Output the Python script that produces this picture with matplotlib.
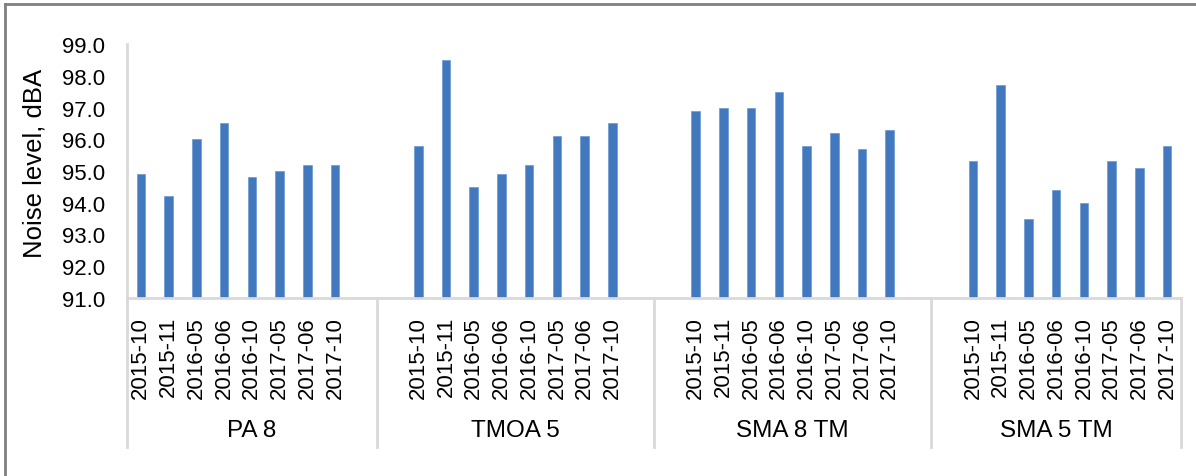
import numpy as np
import matplotlib.pyplot as plt
from matplotlib.lines import Line2D
import matplotlib.transforms as mtransforms

plt.rcParams['font.family'] = ['Liberation Sans', 'DejaVu Sans']

groups = ['PA 8', 'TMOA 5', 'SMA 8 TM', 'SMA 5 TM']
dates = ['2015-10', '2015-11', '2016-05', '2016-06',
         '2016-10', '2017-05', '2017-06', '2017-10']

pa8 = [94.9, 94.2, 96.0, 96.5, 94.8, 95.0, 95.2, 95.2]
tmoa5 = [95.8, 98.5, 94.5, 94.9, 95.2, 96.1, 96.1, 96.5]
sma8tm = [96.9, 97.0, 97.0, 97.5, 95.8, 96.2, 95.7, 96.3]
sma5tm = [95.3, 97.7, 93.5, 94.4, 94.0, 95.3, 95.1, 95.8]
series = [pa8, tmoa5, sma8tm, sma5tm]

base = 91.0
top = 99.0

W, H = 1196, 477
fig = plt.figure(figsize=(W / 100, H / 100), dpi=100)
ax = fig.add_axes([127 / W, 1 - 299 / H, (1181 - 127) / W, 254 / H])

bar_color = '#4178BE'
axis_color = '#D9D9D9'

# each group takes 8 slots, with 2 empty slots between groups
xs, heights, labels = [], [], []
for g, vals in enumerate(series):
    for i, v in enumerate(vals):
        xs.append(g * 10 + i + 0.5)
        heights.append(v - base)
        labels.append(dates[i])

ax.bar(xs, heights, bottom=base, width=0.31, color=bar_color,
       edgecolor='#5B8FD0', linewidth=0.4)

ax.set_xlim(0, 38)
ax.set_ylim(base, top)
ticks = np.arange(91, 100, 1)
ax.set_yticks(ticks)
ax.set_yticklabels(['%.1f' % t for t in ticks])
ax.set_xticks(xs)
ax.set_xticklabels(labels, rotation=90, va='top', ha='center')
ax.tick_params(axis='x', length=0, pad=13, labelsize=16, colors='black')
ax.tick_params(axis='y', length=0, pad=16, labelsize=16)

for s in ['top', 'right']:
    ax.spines[s].set_visible(False)
for s in ['left', 'bottom']:
    ax.spines[s].set_color(axis_color)
    ax.spines[s].set_linewidth(2)

fig.text(35 / W, 1 - 163 / H, 'Noise level, dBA', rotation=90,
         ha='center', va='center', fontsize=18.5)

# group separators and group names below the date labels
trans = mtransforms.blended_transform_factory(ax.transData, ax.transAxes)
bounds = [0, 9, 19, 29, 38]
for b in bounds:
    ax.plot([b, b], [0, -0.587], transform=trans, color=axis_color,
            lw=2, clip_on=False)
for g, name in enumerate(groups):
    mid = (bounds[g] + bounds[g + 1]) / 2
    ax.text(mid, -0.52, name, transform=trans, ha='center', va='center',
            fontsize=17.5)

# outer frame
fig.add_artist(Line2D([5 / W, 1.0], [1 - 5 / H, 1 - 5 / H],
                      transform=fig.transFigure, color='#808080', lw=2))
fig.add_artist(Line2D([5 / W, 5 / W], [0, 1 - 5 / H],
                      transform=fig.transFigure, color='#808080', lw=2))

fig.savefig('out.png', dpi=100)
